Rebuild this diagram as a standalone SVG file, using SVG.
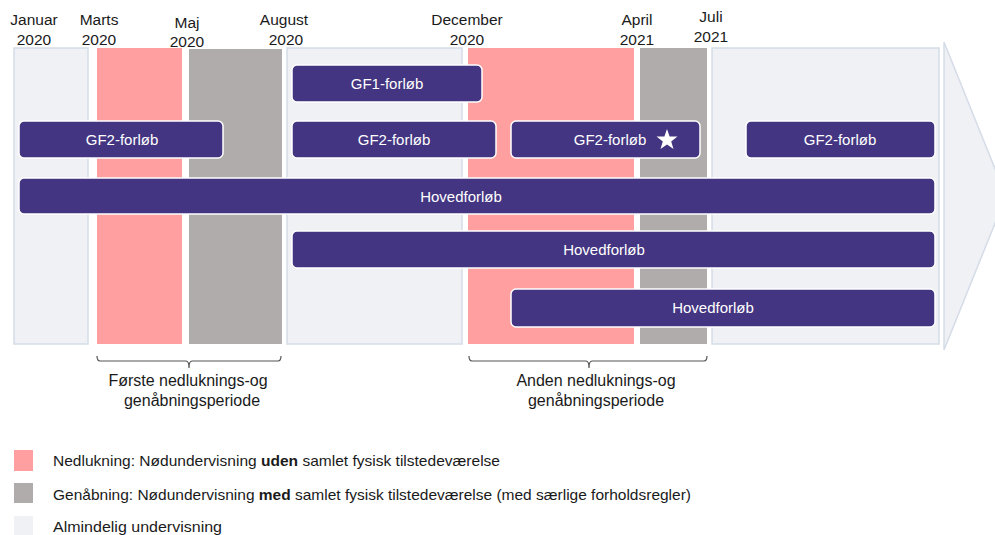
<svg xmlns="http://www.w3.org/2000/svg" width="995" height="535" viewBox="0 0 995 535">
<style>
.t{font-family:"Liberation Sans",Arial,sans-serif;font-size:15.5px;fill:#1a1a1a}
.k{font-family:"Liberation Sans",Arial,sans-serif;font-size:16px;fill:#1a1a1a}
.l{font-family:"Liberation Sans",Arial,sans-serif;font-size:15px;fill:#1a1a1a}
.b{font-family:"Liberation Sans",Arial,sans-serif;font-size:15px;fill:#ffffff}
.lt{fill:#eff1f5;stroke:#d5dce8;stroke-width:1.5}
.pk{fill:#ff9f9f}
.gr{fill:#b0acab}
.bar{fill:#433581;stroke:#ffffff;stroke-width:1.5}
.br{fill:none;stroke:#555;stroke-width:1.2}
</style>
<rect width="995" height="535" fill="#ffffff"/>
<g id="arrow"><polygon points="944,42 1006,196 944,350" class="lt"/></g>
<g id="periods">
<rect class="lt" x="14" y="48" width="74" height="296"/>
<rect class="pk" x="97" y="48" width="85" height="296"/>
<rect class="gr" x="189" y="49" width="93" height="295"/>
<rect class="lt" x="287" y="48" width="175" height="296"/>
<rect class="pk" x="468" y="48" width="166" height="296"/>
<rect class="gr" x="640" y="48" width="67" height="296"/>
<rect class="lt" x="712" y="48" width="227" height="296"/>
</g>
<g id="dates" class="t" text-anchor="middle">
<text x="34" y="25">Januar</text><text x="34" y="45">2020</text>
<text x="99" y="25">Marts</text><text x="99" y="45">2020</text>
<text x="187" y="28">Maj</text><text x="187" y="47">2020</text>
<text x="284" y="25">August</text><text x="286" y="45">2020</text>
<text x="467" y="25">December</text><text x="467" y="45">2020</text>
<text x="637" y="25">April</text><text x="637" y="45">2021</text>
<text x="711" y="22">Juli</text><text x="711" y="42">2021</text>
</g>
<g id="gf1"><rect class="bar" x="292" y="65" width="190" height="37" rx="5"/><text class="b" x="387" y="89" text-anchor="middle">GF1-forløb</text></g>
<g id="gf2a"><rect class="bar" x="19" y="121" width="204" height="37" rx="5"/><text class="b" x="122" y="145" text-anchor="middle">GF2-forløb</text></g>
<g id="gf2b"><rect class="bar" x="292" y="121" width="204" height="37" rx="5"/><text class="b" x="394" y="145" text-anchor="middle">GF2-forløb</text></g>
<g id="gf2c"><rect class="bar" x="511" y="121" width="189" height="37" rx="5"/><text class="b" x="610" y="145" text-anchor="middle">GF2-forløb</text>
<polygon fill="#ffffff" points="667,129 669.6,136.4 677.5,136.6 671.2,141.4 673.5,149 667,144.5 660.5,149 662.8,141.4 656.5,136.6 664.4,136.4"/></g>
<g id="gf2d"><rect class="bar" x="746" y="121" width="189" height="37" rx="5"/><text class="b" x="840" y="145" text-anchor="middle">GF2-forløb</text></g>
<g id="hov1"><rect class="bar" x="19" y="178" width="916" height="36" rx="5"/><text class="b" x="461" y="202" text-anchor="middle">Hovedforløb</text></g>
<g id="hov2"><rect class="bar" x="292" y="231" width="643" height="37" rx="5"/><text class="b" x="604" y="255" text-anchor="middle">Hovedforløb</text></g>
<g id="hov3"><rect class="bar" x="511" y="289" width="424" height="38" rx="5"/><text class="b" x="713" y="313" text-anchor="middle">Hovedforløb</text></g>
<g id="brackets">
<path class="br" d="M97,356 Q97,361 100,361 L186,361 Q189,361 189,368 Q189,361 192,361 L278,361 Q281,361 281,356"/>
<path class="br" d="M469,356 Q469,361 472,361 L586,361 Q589,361 589,368 Q589,361 592,361 L704,361 Q707,361 707,356"/>
<text class="k" x="188" y="386" text-anchor="middle">Første nedluknings-og</text>
<text class="k" x="192" y="406" text-anchor="middle">genåbningsperiode</text>
<text class="k" x="596" y="386" text-anchor="middle">Anden nedluknings-og</text>
<text class="k" x="596" y="406" text-anchor="middle">genåbningsperiode</text>
</g>
<g id="legend">
<rect class="pk" x="14" y="450" width="19" height="21"/>
<rect class="gr" x="14" y="483" width="19" height="20"/>
<rect fill="#eff1f5" x="14" y="516" width="19" height="20"/>
<text class="l" x="53" y="466" textLength="447" lengthAdjust="spacingAndGlyphs">Nedlukning: Nødundervisning <tspan font-weight="bold">uden</tspan> samlet fysisk tilstedeværelse</text>
<text class="l" x="53" y="500" textLength="638" lengthAdjust="spacingAndGlyphs">Genåbning: Nødundervisning <tspan font-weight="bold">med</tspan> samlet fysisk tilstedeværelse (med særlige forholdsregler)</text>
<text class="l" x="53" y="532" textLength="169" lengthAdjust="spacingAndGlyphs">Almindelig undervisning</text>
</g>
</svg>
